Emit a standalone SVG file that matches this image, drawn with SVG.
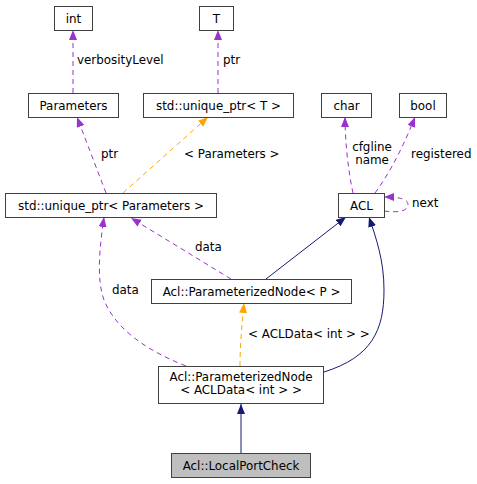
<svg xmlns="http://www.w3.org/2000/svg" width="477" height="484" viewBox="0 0 477 484">
<defs>
<style>
text{font-family:"DejaVu Sans","Liberation Sans",sans-serif;font-size:11.9px;fill:#000}
.n rect{fill:#fff;stroke:#404040;stroke-width:1}
.n text{text-anchor:middle}
.p{fill:none;stroke:#9a32cd;stroke-dasharray:5,4}
.o{fill:none;stroke:#ffa500;stroke-dasharray:5,4}
.b{fill:none;stroke:#191970}
</style>
<marker id="mp" markerUnits="userSpaceOnUse" markerWidth="11" markerHeight="9" refX="10" refY="4" orient="auto"><path d="M0,0 L10,4 L0,8 z" fill="#9a32cd"/></marker>
<marker id="mo" markerUnits="userSpaceOnUse" markerWidth="11" markerHeight="9" refX="10" refY="4" orient="auto"><path d="M0,0 L10,4 L0,8 z" fill="#ffa500"/></marker>
<marker id="mb" markerUnits="userSpaceOnUse" markerWidth="11" markerHeight="9" refX="10" refY="4" orient="auto"><path d="M0,0 L10,4 L0,8 z" fill="#191970"/></marker>
</defs>
<g id="connectors">
<path class="p" d="M73,93 L73,30" marker-end="url(#mp)"/>
<text x="77" y="64">verbosityLevel</text>
<path class="p" d="M218,93 L218,30" marker-end="url(#mp)"/>
<text x="223" y="64">ptr</text>
<path class="p" d="M106,193 L77,117" marker-end="url(#mp)"/>
<text x="101" y="158">ptr</text>
<path class="o" d="M123,193 L208,117" marker-end="url(#mo)"/>
<text x="184" y="158">&lt; Parameters &gt;</text>
<path class="p" d="M353,193 C348,170 345,140 345,117" marker-end="url(#mp)"/>
<text x="372" y="151" text-anchor="middle">cfgline</text>
<text x="372" y="164" text-anchor="middle">name</text>
<path class="p" d="M375,193 C392,170 406,140 415,117" marker-end="url(#mp)"/>
<text x="411" y="158">registered</text>
<path class="p" d="M384,211 C398,213 408,211 408,205 C408,199 400,197 384,197" marker-end="url(#mp)"/>
<text x="412" y="207">next</text>
<path class="b" d="M266,279 L346,217" marker-end="url(#mb)"/>
<path class="b" d="M324,372 C372,357 384,330 384,290 C384,260 376,238 369,217" marker-end="url(#mb)"/>
<path class="p" d="M231,279 L131,218" marker-end="url(#mp)"/>
<text x="195" y="251">data</text>
<path class="p" d="M186,366 C140,348 114,325 104,300 C96,278 100,245 104,217" marker-end="url(#mp)"/>
<text x="112" y="294">data</text>
<path class="o" d="M240,366 C240,345 242,325 244,303" marker-end="url(#mo)"/>
<text x="248" y="338">&lt; ACLData&lt; int &gt; &gt;</text>
<path class="b" d="M241,453 L241,404" marker-end="url(#mb)"/>
</g>
<g id="int" class="n"><rect x="54.5" y="6.5" width="38" height="24"/><text x="73.5" y="22.5">int</text></g>
<g id="T" class="n"><rect x="199.5" y="6.5" width="34" height="24"/><text x="216.5" y="22.5">T</text></g>
<g id="Parameters" class="n"><rect x="28.5" y="93.5" width="90" height="24"/><text x="73.5" y="109.5">Parameters</text></g>
<g id="unique_ptr_T" class="n"><rect x="143.5" y="93.5" width="150" height="24"/><text x="218.5" y="109.5">std::unique_ptr&lt; T &gt;</text></g>
<g id="char" class="n"><rect x="321.5" y="93.5" width="50" height="24"/><text x="346.5" y="109.5">char</text></g>
<g id="bool" class="n"><rect x="399.5" y="93.5" width="47" height="24"/><text x="423" y="109.5">bool</text></g>
<g id="unique_ptr_Parameters" class="n"><rect x="5.5" y="193.5" width="211" height="24"/><text x="111" y="209.5">std::unique_ptr&lt; Parameters &gt;</text></g>
<g id="ACL" class="n"><rect x="338.5" y="193.5" width="46" height="24"/><text x="361.5" y="209.5">ACL</text></g>
<g id="ParameterizedNodeP" class="n"><rect x="151.5" y="279.5" width="200" height="24"/><text x="251.5" y="295.5">Acl::ParameterizedNode&lt; P &gt;</text></g>
<g id="ParameterizedNodeACLData" class="n"><rect x="158.5" y="366.5" width="165" height="37"/><text x="241" y="381">Acl::ParameterizedNode</text><text x="241" y="394">&lt; ACLData&lt; int &gt; &gt;</text></g>
<g id="LocalPortCheck" class="n"><rect x="171.5" y="453.5" width="139" height="24" style="fill:#bfbfbf"/><text x="241" y="469.5">Acl::LocalPortCheck</text></g>
</svg>
